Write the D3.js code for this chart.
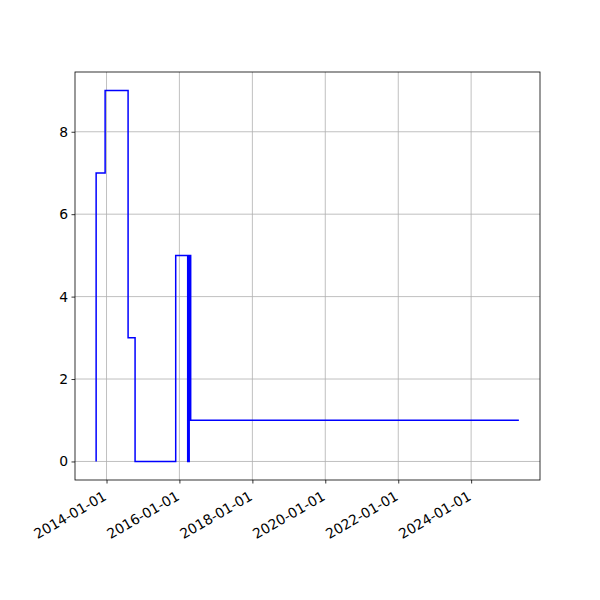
<!DOCTYPE html>
<html><head><meta charset="utf-8">
<script src="https://cdn.jsdelivr.net/npm/d3@7"></script>
<style>body{margin:0;background:#fff}</style>
</head><body>
<svg id="c" width="600" height="600"></svg>
<script>
const dates = ["2013-09-19","2013-12-18","2014-08-05","2014-10-14","2015-11-25","2016-03-24","2016-04-08","2016-04-23","2025-04-23"];
const values = [0,7,9,3,0,5,0,5,1];
const xTickLabels = ["2014-01-01","2016-01-01","2018-01-01","2020-01-01","2022-01-01","2024-01-01"];
const yTicks = [0,2,4,6,8];

const parse = d3.utcParse("%Y-%m-%d");
const data = dates.map((d,i)=>({t:parse(d), v:values[i]}));
const L=75,R=540,T=72,B=480;
const svg = d3.select("#c");
const font = "DejaVu Sans, sans-serif";

const [t0,t1] = d3.extent(data,d=>d.t);
const span = t1-t0;
const x = d3.scaleUtc().domain([new Date(+t0-0.05*span), new Date(+t1+0.05*span)]).range([L,R]);
const vmax = d3.max(values), vmin = d3.min(values);
const y = d3.scaleLinear().domain([vmin-0.05*(vmax-vmin), vmax+0.05*(vmax-vmin)]).range([B,T]);

const xt = xTickLabels.map(parse);
// grid
const g = svg.append("g");
g.selectAll(".gx").data(xt).join("line")
  .attr("x1",d=>x(d)).attr("x2",d=>x(d)).attr("y1",T).attr("y2",B)
  .attr("stroke","#b0b0b0").attr("stroke-width",0.8);
g.selectAll(".gy").data(yTicks).join("line")
  .attr("y1",d=>y(d)).attr("y2",d=>y(d)).attr("x1",L).attr("x2",R)
  .attr("stroke","#b0b0b0").attr("stroke-width",0.8);

// line
const line = d3.line().x(d=>x(d.t)).y(d=>y(d.v)).curve(d3.curveStepBefore);
svg.append("path").datum(data).attr("d",line)
  .attr("fill","none").attr("stroke","#0000ff").attr("stroke-width",1.5)
  .attr("stroke-linejoin","miter");

// frame
svg.append("rect").attr("x",L).attr("y",T).attr("width",R-L).attr("height",B-T)
  .attr("fill","none").attr("stroke","#000").attr("stroke-width",0.8);

// x axis
const xa = svg.append("g").attr("transform",`translate(0,${B})`)
  .call(d3.axisBottom(x).tickValues(xt).tickSize(3.5).tickFormat((d,i)=>xTickLabels[i]));
xa.select(".domain").remove();
xa.selectAll(".tick line").attr("stroke","#000").attr("stroke-width",0.8);
xa.selectAll(".tick text")
  .attr("font-family",font).attr("font-size","13.9px").attr("fill","#000")
  .attr("text-anchor","end").attr("x",0).attr("y",0).attr("dy",null)
  .attr("transform","translate(0.5,19) rotate(-30)");

// y axis
const ya = svg.append("g").attr("transform",`translate(${L},0)`)
  .call(d3.axisLeft(y).tickValues(yTicks).tickSize(3.5).tickPadding(3.5).tickFormat(d3.format("d")));
ya.select(".domain").remove();
ya.selectAll(".tick line").attr("stroke","#000").attr("stroke-width",0.8);
ya.selectAll(".tick text").attr("font-family",font).attr("font-size","13.9px").attr("fill","#000");
</script>
</body></html>
